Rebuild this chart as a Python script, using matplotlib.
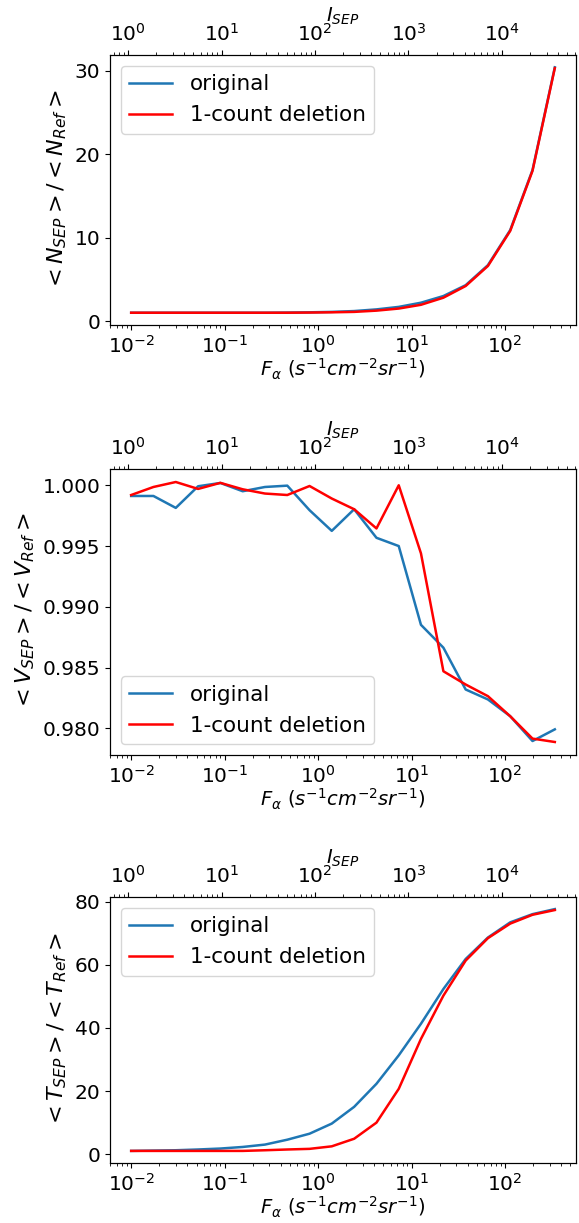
import numpy as np
import matplotlib
matplotlib.use("Agg")
import matplotlib.pyplot as plt
from matplotlib.ticker import MultipleLocator

plt.rcParams['font.size'] = 14
plt.rcParams['xtick.labelsize'] = 14.5
plt.rcParams['ytick.labelsize'] = 14.5

# F_alpha grid (s^-1 cm^-2 sr^-1)
F_alpha = [0.01, 0.0173, 0.03, 0.052, 0.09, 0.156, 0.27, 0.468, 0.81, 1.40,
           2.43, 4.21, 7.29, 12.6, 21.9, 37.9, 65.6, 113.6, 196.8, 340.9]

N_orig = [1.0, 1.0, 1.0, 1.0, 1.0, 1.0, 1.0, 1.02, 1.05, 1.1,
          1.2, 1.4, 1.7, 2.2, 3.0, 4.3, 6.7, 10.9, 18.1, 30.4]
N_del = [1.0, 1.0, 1.0, 1.0, 1.0, 1.0, 1.0, 1.0, 1.02, 1.05,
         1.1, 1.25, 1.5, 1.95, 2.8, 4.2, 6.6, 10.8, 18.0, 30.3]

V_orig = [0.99912, 0.99912, 0.99814, 0.99992, 1.00019, 0.99951, 0.99986, 0.99997, 0.99795, 0.99625,
          0.99803, 0.99568, 0.99500, 0.98852, 0.98664, 0.98320, 0.98238, 0.98100, 0.97896, 0.97992]
V_del = [0.99920, 0.99986, 1.00027, 0.99970, 1.00020, 0.99967, 0.99932, 0.99920, 0.99994, 0.99891,
         0.99803, 0.99645, 1.00000, 0.99440, 0.98470, 0.98361, 0.98265, 0.98100, 0.97916, 0.97888]

T_orig = [1.05, 1.16, 1.26, 1.5, 1.8, 2.3, 3.05, 4.6, 6.5, 9.7,
          15.0, 22.3, 31.3, 41.3, 52.3, 61.8, 68.6, 73.4, 76.0, 77.6]
T_del = [1.05, 1.05, 1.05, 1.05, 1.05, 1.05, 1.26, 1.5, 1.7, 2.5,
         4.9, 10.0, 20.7, 36.5, 50.2, 61.3, 68.4, 73.0, 75.8, 77.3]

I_PER_F = 108.0  # I_SEP per unit F_alpha (top axis scale)

ylabels = [r'$<N_{SEP}>/<N_{Ref}>$', r'$<V_{SEP}>/<V_{Ref}>$', r'$<T_{SEP}>/<T_{Ref}>$']
series = [(N_orig, N_del), (V_orig, V_del), (T_orig, T_del)]
legend_locs = ['upper left', 'lower left', 'upper left']
ysteps = [10, 0.005, 20]

fig = plt.figure(figsize=(5.79, 12.23), dpi=100)
W, H = 579.0, 1223.0
boxes = [(110, 55, 576, 325), (110, 469, 576, 755), (110, 897, 576, 1163)]

for (x0, y0, x1, y1), (orig, dele), ylab, loc, st in zip(boxes, series, ylabels, legend_locs, ysteps):
    ax = fig.add_axes([x0 / W, 1 - y1 / H, (x1 - x0) / W, (y1 - y0) / H])
    ax.plot(F_alpha, orig, color='#1f77b4', lw=1.8, label='original')
    ax.plot(F_alpha, dele, color='red', lw=1.8, label='1-count deletion')
    ax.set_xscale('log')
    ax.yaxis.set_major_locator(MultipleLocator(st))
    ax.set_xlabel(r'$F_\alpha\ (s^{-1}cm^{-2}sr^{-1})$', labelpad=0)
    ax.set_ylabel(ylab, fontsize=16, labelpad=4)
    ax.legend(loc=loc, fontsize=15.5)
    axt = ax.twiny()
    axt.set_xscale('log')
    lo, hi = ax.get_xlim()
    axt.set_xlim(lo * I_PER_F, hi * I_PER_F)
    axt.set_xlabel(r'$I_{SEP}$', labelpad=1)

fig.savefig('out.png', dpi=100)
